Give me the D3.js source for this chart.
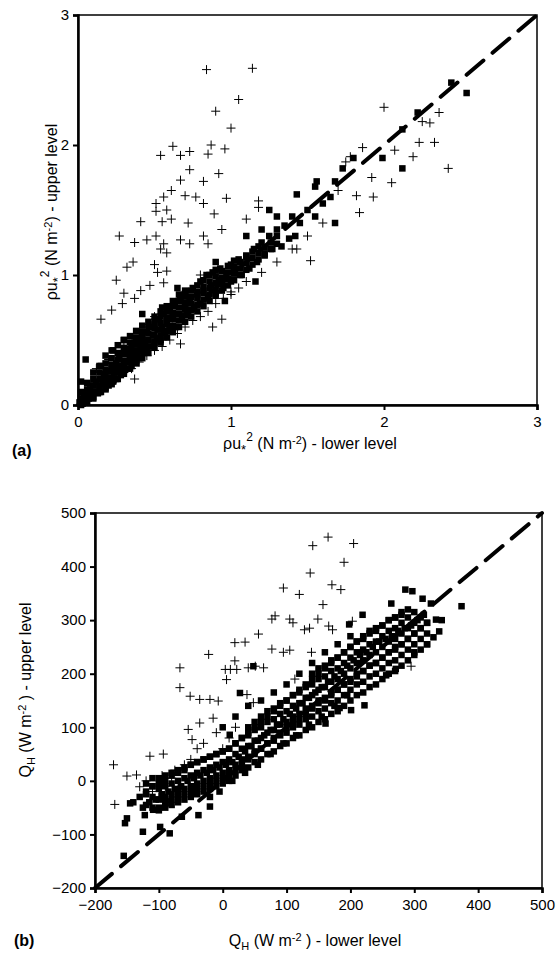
<!DOCTYPE html>
<html><head><meta charset="utf-8">
<script src="https://cdn.jsdelivr.net/npm/d3@7"></script>
<style>body{margin:0;background:#fff}text{font-family:"Liberation Sans",Arial,sans-serif}</style>
</head><body><svg id="c" width="559" height="960"></svg>
<script>
const aTicks=[0,1,2,3];
const bTicks=[-200,-100,0,100,200,300,400,500];
const aSquares=[[0.01,0.02],[0.02,0.05],[0.03,0.01],[0.04,0.08],[0.05,0.03],[0.06,0.1],[0.07,0.05],[0.08,0.12],[0.09,0.07],[0.1,0.15],[0.1,0.06],[0.11,0.1],[0.12,0.18],[0.13,0.09],[0.14,0.14],[0.15,0.2],[0.15,0.1],[0.16,0.16],[0.17,0.24],[0.18,0.13],[0.19,0.19],[0.2,0.26],[0.2,0.15],[0.21,0.21],[0.22,0.3],[0.23,0.18],[0.24,0.25],[0.25,0.32],[0.25,0.2],[0.26,0.28],[0.27,0.36],[0.28,0.23],[0.29,0.3],[0.3,0.4],[0.3,0.26],[0.31,0.33],[0.32,0.42],[0.33,0.28],[0.34,0.36],[0.35,0.45],[0.35,0.3],[0.36,0.4],[0.37,0.48],[0.38,0.34],[0.39,0.42],[0.4,0.5],[0.4,0.36],[0.41,0.45],[0.42,0.55],[0.43,0.4],[0.44,0.48],[0.45,0.56],[0.45,0.42],[0.46,0.5],[0.47,0.6],[0.48,0.45],[0.49,0.54],[0.5,0.62],[0.5,0.48],[0.52,0.58],[0.53,0.66],[0.54,0.5],[0.55,0.6],[0.56,0.7],[0.57,0.55],[0.58,0.64],[0.6,0.72],[0.6,0.58],[0.62,0.68],[0.63,0.78],[0.64,0.6],[0.65,0.7],[0.67,0.82],[0.68,0.66],[0.7,0.76],[0.7,0.86],[0.72,0.7],[0.73,0.8],[0.75,0.9],[0.76,0.74],[0.78,0.85],[0.8,0.95],[0.8,0.78],[0.82,0.88],[0.84,1.0],[0.85,0.82],[0.87,0.92],[0.88,1.02],[0.9,0.86],[0.92,0.96],[0.93,1.05],[0.95,0.9],[0.97,1.0],[1.0,1.08],[1.0,0.95],[1.02,1.02],[1.05,1.12],[1.07,1.0],[1.1,1.15],[1.12,1.05],[1.15,1.2],[1.17,1.1],[1.2,1.25],[1.22,1.15],[1.25,1.3],[1.27,1.2],[1.3,1.35],[1.33,1.22],[1.35,1.38],[1.38,1.28],[1.4,1.45],[1.42,1.3],[1.45,1.4],[1.5,1.5],[1.55,1.45],[1.6,1.55],[1.65,1.6],[0.96,0.8],[1.16,0.95],[0.23,0.42],[0.05,0.35],[0.02,0.18],[0.42,0.7],[1.55,1.68],[1.68,1.72],[1.73,1.82],[1.68,1.4],[1.25,1.5],[1.3,1.45],[2.54,2.4],[2.44,2.48],[2.12,1.82],[2.22,2.25],[2.12,2.12],[1.99,1.9],[1.8,1.9],[1.56,1.72],[1.43,1.62],[0.9,1.1],[1.1,1.3],[1.2,1.35],[0.3,0.5],[0.15,0.3],[0.55,0.75],[0.65,0.9]];
const aCore=[[0.02,[0,0.05,0.1]],[0.06,[0.02,0.07,0.12,0.17]],[0.1,[0.05,0.1,0.15,0.2,0.25]],[0.14,[0.1,0.15,0.2,0.25,0.3]],[0.18,[0.12,0.17,0.22,0.27,0.32,0.38]],[0.22,[0.16,0.21,0.26,0.31,0.36,0.42]],[0.26,[0.2,0.25,0.3,0.35,0.4,0.46]],[0.3,[0.24,0.29,0.34,0.39,0.44,0.5]],[0.34,[0.28,0.33,0.38,0.43,0.48,0.53]],[0.38,[0.32,0.37,0.42,0.47,0.52,0.57]],[0.42,[0.36,0.41,0.46,0.51,0.56,0.61]],[0.46,[0.4,0.45,0.5,0.55,0.6,0.64]],[0.5,[0.44,0.49,0.54,0.59,0.64,0.68]],[0.54,[0.48,0.53,0.58,0.63,0.68,0.72]],[0.58,[0.52,0.57,0.62,0.67,0.72,0.76]],[0.62,[0.56,0.61,0.66,0.71,0.76,0.8]],[0.66,[0.6,0.65,0.7,0.75,0.8,0.85]],[0.7,[0.64,0.69,0.74,0.79,0.84,0.88]],[0.74,[0.68,0.73,0.78,0.83,0.88]],[0.78,[0.72,0.77,0.82,0.87,0.92]],[0.82,[0.76,0.81,0.86,0.91,0.96]],[0.86,[0.8,0.85,0.9,0.95,1.0]],[0.9,[0.84,0.89,0.94,0.99,1.04]],[0.94,[0.88,0.93,0.98,1.03]],[0.98,[0.92,0.97,1.02,1.07]],[1.02,[0.96,1.01,1.06,1.11]],[1.06,[1.0,1.05,1.1]],[1.1,[1.04,1.09,1.14]],[1.14,[1.08,1.13,1.18]],[1.18,[1.12,1.17,1.22]],[1.22,[1.16,1.21]],[1.26,[1.2,1.25]],[1.3,[1.24,1.3]]];
const aCrosses=[[0.84,2.58],[1.14,2.59],[1.05,2.35],[0.9,2.26],[1.0,2.13],[0.54,1.92],[0.62,1.99],[0.67,1.92],[0.73,1.95],[0.85,1.93],[0.87,2.0],[0.96,1.97],[0.73,1.81],[0.92,1.78],[0.82,1.72],[0.67,1.73],[0.61,1.65],[0.56,1.6],[0.51,1.55],[0.7,1.61],[0.77,1.6],[0.97,1.59],[0.82,1.55],[0.51,1.49],[0.58,1.5],[0.61,1.43],[0.55,1.41],[0.41,1.41],[0.27,1.3],[0.37,1.25],[0.45,1.27],[0.51,1.3],[0.67,1.27],[0.72,1.4],[0.89,1.47],[0.94,1.35],[0.73,1.24],[0.82,1.3],[0.85,1.24],[0.56,1.24],[0.58,1.17],[0.54,1.2],[1.1,1.43],[1.18,1.57],[0.36,1.1],[0.32,1.06],[0.5,1.08],[0.52,1.02],[0.58,1.03],[0.25,0.96],[0.3,0.86],[0.41,0.88],[0.47,0.92],[0.56,0.94],[0.15,0.66],[0.22,0.73],[0.29,0.78],[0.37,0.82],[0.94,0.66],[0.88,0.6],[0.67,0.47],[0.37,0.2],[1.0,0.87],[2.0,2.29],[2.36,2.25],[2.25,2.18],[2.3,2.17],[2.23,2.02],[2.33,2.02],[2.19,1.91],[2.42,1.82],[2.07,1.96],[1.86,1.98],[1.75,1.87],[1.78,1.91],[2.05,1.71],[1.92,1.75],[1.93,1.6],[1.82,1.61],[1.84,1.48],[1.7,1.65],[1.18,1.52],[1.52,1.11],[1.43,1.2],[0.1,0.08],[0.15,0.12],[0.2,0.17],[0.25,0.2],[0.3,0.25],[0.35,0.28],[0.4,0.33],[0.45,0.38],[0.5,0.42],[0.55,0.45],[0.6,0.5],[0.65,0.55],[0.7,0.6],[0.75,0.65],[0.8,0.68],[0.85,0.72],[0.9,0.78],[0.95,0.82],[1.0,0.85],[1.05,0.9],[1.1,0.95],[1.2,1.02],[1.3,1.1],[1.4,1.2],[1.5,1.3],[1.6,1.4],[0.3,0.45],[0.2,0.35],[0.12,0.28],[0.4,0.55],[0.5,0.68],[0.65,0.8],[0.8,1.0],[0.55,0.5],[0.45,0.6]];
const bSquares=[[-140,-40],[-130,-30],[-125,-50],[-120,-20],[-115,-40],[-110,-10],[-105,-35],[-100,-50],[-100,-5],[-95,-25],[-90,-40],[-90,0],[-85,-20],[-80,-35],[-80,10],[-75,-15],[-70,-30],[-70,15],[-65,-10],[-60,-25],[-60,20],[-55,0],[-50,-20],[-50,30],[-45,5],[-40,-15],[-40,35],[-35,10],[-30,-10],[-30,40],[-25,15],[-20,-5],[-20,45],[-15,20],[-10,0],[-10,50],[-5,25],[0,5],[0,55],[5,30],[10,10],[10,60],[15,35],[20,20],[20,70],[25,45],[30,30],[30,80],[35,55],[40,40],[40,90],[45,65],[50,50],[50,100],[55,75],[60,60],[60,110],[65,85],[70,70],[70,120],[75,95],[80,80],[80,130],[85,105],[90,90],[90,140],[95,115],[100,100],[100,150],[105,125],[110,110],[110,160],[115,135],[120,115],[120,170],[125,145],[130,125],[130,180],[135,155],[140,135],[140,190],[145,165],[150,145],[150,200],[155,175],[160,150],[160,210],[165,185],[170,160],[170,220],[175,195],[180,170],[180,230],[185,205],[190,180],[190,240],[195,215],[200,185],[200,250],[205,225],[210,195],[210,260],[215,235],[220,205],[220,270],[225,240],[230,215],[230,280],[235,250],[240,220],[240,285],[245,260],[250,230],[250,290],[255,265],[260,240],[260,300],[265,270],[270,250],[270,305],[275,280],[280,255],[280,310],[285,285],[290,265],[290,320],[295,290],[300,275],[305,300],[310,285],[315,310],[320,295],[320,255],[300,240],[-20,-30],[-5,-20],[15,0],[35,15],[55,30],[75,50],[95,70],[115,85],[135,105],[155,120],[175,140],[195,160],[0,100],[20,120],[40,140],[60,150],[80,165],[100,180],[120,200],[140,220],[160,240],[180,255],[200,270],[-145,-42],[-150,-70],[-153,-79],[-122,-64],[-125,-95],[-109,-54],[-83,-98],[-98,-86],[-155,-140],[-64,-67],[-38,-64],[-20,-48],[11,86],[27,164],[48,214],[286,357],[297,354],[313,340],[326,331],[374,326],[264,331],[334,301],[343,300],[339,279],[330,268],[219,310],[198,292],[271,209],[222,141],[201,132],[183,136],[161,107],[256,197]];
const bCore=[[-120,[-45,-25,-5]],[-110,[-50,-30,-10,5]],[-100,[-55,-35,-15,5]],[-90,[-50,-30,-10,10]],[-80,[-45,-25,-5,15]],[-70,[-40,-20,0,20]],[-60,[-35,-15,5,25]],[-50,[-30,-10,10,30]],[-40,[-25,-5,15,35]],[-30,[-20,0,20,40]],[-20,[-15,5,25,45]],[-10,[-10,10,30,50]],[0,[-5,15,35,55]],[10,[0,20,40,60]],[20,[10,30,50,70]],[30,[20,40,60,80]],[40,[25,45,65,85,100]],[50,[35,55,75,95,110]],[60,[40,60,80,100,120]],[70,[50,70,90,110,130]],[80,[55,75,95,115,135]],[90,[65,85,105,125,145]],[100,[70,90,110,130,150]],[110,[80,100,120,140,160]],[120,[85,105,125,145,165]],[130,[95,115,135,155,175]],[140,[100,120,140,160,180,200]],[150,[110,130,150,170,190,210]],[160,[115,135,155,175,195,215]],[170,[125,145,165,185,205,225]],[180,[130,150,170,190,210,230]],[190,[140,160,180,200,220,240]],[200,[150,170,190,210,230,250]],[210,[160,180,200,220,240,260]],[220,[165,185,205,225,245,265]],[230,[175,195,215,235,255,275]],[240,[180,200,220,240,260,280]],[250,[190,210,230,250,270,290]],[260,[200,220,240,260,280,300]],[270,[205,225,245,265,285,305]],[280,[215,235,255,275,295,315]],[290,[225,245,265,285,305]],[300,[235,255,275,295,315]],[310,[245,265,285,305]],[320,[255,275,295]]];
const bCrosses=[[-171,30],[-169,-44],[-150,9],[-135,11],[-130,-11],[-114,46],[-93,50],[-67,211],[-67,174],[-51,158],[-36,152],[-22,236],[-20,152],[-7,149],[-54,96],[-48,77],[-36,108],[-15,117],[4,208],[12,208],[22,208],[6,189],[19,258],[35,259],[19,224],[40,211],[51,214],[64,211],[56,274],[77,302],[82,308],[77,246],[38,161],[48,146],[165,455],[141,439],[205,443],[190,408],[137,388],[171,366],[185,357],[120,348],[95,360],[157,329],[105,302],[110,295],[149,302],[128,282],[136,285],[166,289],[172,282],[95,240],[105,244],[139,240],[295,214],[113,190],[203,298],[-120,0],[-110,-20],[-100,-30],[-95,10],[-90,-10],[-85,-40],[-80,5],[-75,20],[-70,-15],[-60,30],[-50,40],[-40,60],[-30,70],[-10,90],[0,60],[10,80],[20,100]];

const svg=d3.select("#c");
const expand=core=>core.flatMap(([x,ys])=>ys.map(y=>[x,y]));
function panel(o){
  const x=d3.scaleLinear().domain(o.dom).range([o.l,o.r]);
  const y=d3.scaleLinear().domain(o.dom).range([o.b,o.t]);
  const g=svg.append("g");
  g.append("rect").attr("x",o.l).attr("y",o.t).attr("width",o.r-o.l).attr("height",o.b-o.t).attr("fill","none").attr("stroke","#000").attr("stroke-width",1.5);
  const s=6.5;
  const sq=o.sq.concat(expand(o.core));
  g.selectAll(".cr").data(o.cr).join("path").attr("d",d=>{const cx=x(d[0]),cy=y(d[1]);return `M${cx-4.5},${cy}H${cx+4.5}M${cx},${cy-4.5}V${cy+4.5}`;}).attr("stroke","#000").attr("stroke-width",1).attr("fill","none");
  g.selectAll(".sq").data(sq).join("rect").attr("x",d=>x(d[0])-s/2).attr("y",d=>y(d[1])-s/2).attr("width",s).attr("height",s).attr("fill","#000");
  g.append("line").attr("x1",x(o.dom[0])).attr("y1",y(o.dom[0])).attr("x2",x(o.dom[1])).attr("y2",y(o.dom[1])).attr("stroke","#000").attr("stroke-width",4).attr("stroke-dasharray","22,12").attr("stroke-linecap","round");
  const ax=g.append("g").attr("transform",`translate(0,${o.b})`).call(d3.axisBottom(x).tickValues(o.ticks).tickFormat(d3.format("d")).tickSize(5).tickPadding(6));
  const ay=g.append("g").attr("transform",`translate(${o.l},0)`).call(d3.axisLeft(y).tickValues(o.ticks).tickFormat(d3.format("d")).tickSize(5).tickPadding(4));
  [ax,ay].forEach(a=>{a.select(".domain").attr("stroke-width",2.5);a.selectAll(".tick line").attr("stroke-width",2);a.selectAll("text").attr("font-size",15).attr("fill","#000").attr("font-family","Liberation Sans, Arial, sans-serif");});
}
panel({dom:[0,3],l:78,r:537,t:15,b:405,ticks:aTicks,sq:aSquares,core:aCore,cr:aCrosses});
panel({dom:[-200,500],l:95,r:542,t:513,b:888,ticks:bTicks,sq:bSquares,core:bCore,cr:bCrosses});

function rho(t,sub){
  t.append("tspan").text("ρu");
  t.append("tspan").attr("dy",5).attr("font-size",13).text("*");
  t.append("tspan").attr("dy",-13).attr("font-size",12).text("2");
  t.append("tspan").attr("dy",8).text("  (N m");
  t.append("tspan").attr("dy",-5).attr("font-size",11).text("-2");
  t.append("tspan").attr("dy",5).text(") - "+sub);
}
function qh(t,sub){
  t.append("tspan").text("Q");
  t.append("tspan").attr("dy",4).attr("font-size",11).text("H");
  t.append("tspan").attr("dy",-4).text("  (W m");
  t.append("tspan").attr("dy",-5).attr("font-size",11).text("-2");
  t.append("tspan").attr("dy",5).text(" ) - "+sub);
}
const fs=16;
rho(svg.append("text").attr("x",310).attr("y",449).attr("text-anchor","middle").attr("font-size",fs),"lower level");
rho(svg.append("text").attr("transform","translate(57,212) rotate(-90)").attr("text-anchor","middle").attr("font-size",fs),"upper level");
qh(svg.append("text").attr("x",315).attr("y",946).attr("text-anchor","middle").attr("font-size",fs),"lower level");
qh(svg.append("text").attr("transform","translate(31,690) rotate(-90)").attr("text-anchor","middle").attr("font-size",fs),"upper level");
svg.append("text").attr("x",12).attr("y",456).attr("font-size",16).attr("font-weight","bold").text("(a)");
svg.append("text").attr("x",14).attr("y",946).attr("font-size",16).attr("font-weight","bold").text("(b)");
</script></body></html>
